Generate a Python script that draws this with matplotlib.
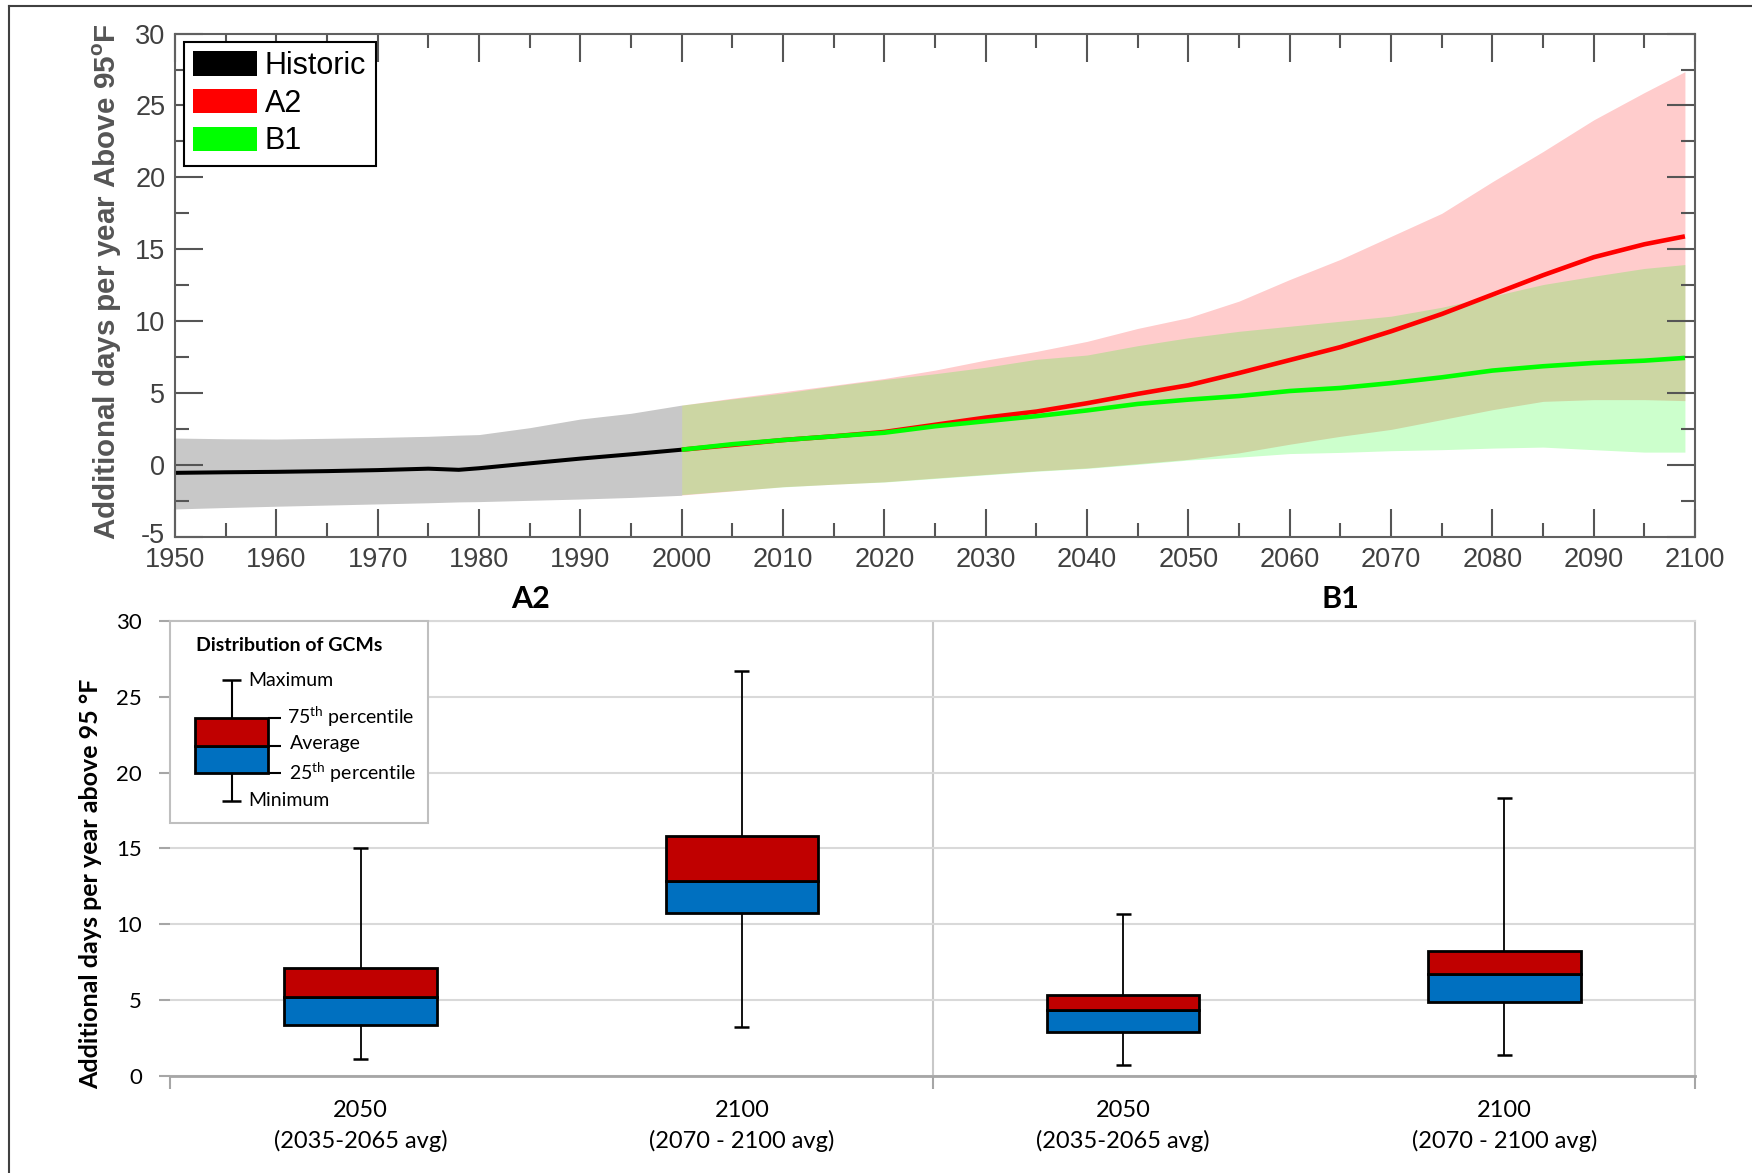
import matplotlib
matplotlib.use('Agg')
import matplotlib.pyplot as plt
from matplotlib.patches import Patch, Rectangle
from matplotlib.ticker import MultipleLocator
from matplotlib.lines import Line2D
import matplotlib.transforms as mtransforms

plt.rcParams['axes.unicode_minus'] = False
plt.rcParams['mathtext.fontset'] = 'custom'
plt.rcParams['mathtext.rm'] = 'Lato'
plt.rcParams['mathtext.bf'] = 'Liberation Sans:bold'

# ---------------- Top panel data ----------------
hist_years = [1950, 1955, 1960, 1965, 1970, 1975, 1978, 1980, 1985, 1990, 1995, 2000]
hist_mean = [-0.54, -0.5, -0.47, -0.42, -0.35, -0.25, -0.33, -0.22, 0.12, 0.45, 0.75, 1.07]
hist_upper = [1.88, 1.83, 1.81, 1.86, 1.92, 2.0, 2.08, 2.12, 2.6, 3.2, 3.6, 4.17]
hist_lower = [-3.05, -2.95, -2.86, -2.78, -2.7, -2.62, -2.56, -2.54, -2.45, -2.36, -2.25, -2.1]

fut_years = [2000, 2005, 2010, 2015, 2020, 2025, 2030, 2035, 2040, 2045, 2050,
             2055, 2060, 2065, 2070, 2075, 2080, 2085, 2090, 2095, 2099]
a2_mean = [1.07, 1.4, 1.74, 2.0, 2.3, 2.8, 3.3, 3.72, 4.3, 4.95, 5.55,
           6.4, 7.3, 8.2, 9.3, 10.5, 11.85, 13.2, 14.45, 15.35, 15.9]
a2_upper = [4.17, 4.65, 5.1, 5.55, 6.02, 6.6, 7.3, 7.9, 8.6, 9.5, 10.25,
            11.4, 12.9, 14.3, 15.9, 17.5, 19.7, 21.8, 24.0, 25.9, 27.35]
a2_lower = [-2.08, -1.8, -1.5, -1.33, -1.16, -0.9, -0.65, -0.4, -0.2, 0.1, 0.4,
            0.85, 1.45, 2.0, 2.48, 3.16, 3.85, 4.43, 4.55, 4.55, 4.48]
b1_mean = [1.07, 1.45, 1.74, 2.0, 2.25, 2.7, 3.05, 3.4, 3.8, 4.25, 4.55,
           4.8, 5.15, 5.36, 5.7, 6.1, 6.57, 6.87, 7.1, 7.26, 7.45]
b1_upper = [4.17, 4.6, 5.0, 5.5, 5.95, 6.35, 6.8, 7.35, 7.65, 8.3, 8.85,
            9.3, 9.65, 10.0, 10.35, 10.97, 11.74, 12.55, 13.13, 13.67, 13.94]
b1_lower = [-2.05, -1.78, -1.52, -1.33, -1.18, -0.93, -0.68, -0.43, -0.23, 0.05, 0.35,
            0.55, 0.8, 0.88, 1.0, 1.07, 1.18, 1.25, 1.07, 0.9, 0.9]

# ---------------- Bottom panel data ----------------
box_labels = ['2050\n(2035-2065 avg)', '2100\n(2070 - 2100 avg)',
              '2050\n(2035-2065 avg)', '2100\n(2070 - 2100 avg)']
box_min = [1.15, 3.22, 0.7, 1.4]
box_q25 = [3.33, 10.73, 2.93, 4.9]
box_avg = [5.21, 12.85, 4.34, 6.75]
box_q75 = [7.09, 15.8, 5.37, 8.25]
box_max = [15.0, 26.7, 10.7, 18.3]
group_titles = ['A2', 'B1']

# legend sample box (drawn in data units of the bottom axes)
leg_min, leg_q25, leg_avg, leg_q75, leg_max = 18.12, 20.0, 21.73, 23.63, 26.1

RED = '#C00000'
BLUE = '#0070C0'

fig = plt.figure(figsize=(17.52, 11.73), dpi=100)

# figure frame lines (top and left)
fig.add_artist(Line2D([0.0051, 1.0], [0.9949, 0.9949], transform=fig.transFigure,
                      color='#404040', lw=1.5))
fig.add_artist(Line2D([0.0051, 0.0051], [0.0, 0.9949], transform=fig.transFigure,
                      color='#404040', lw=1.5))

# ================= TOP PANEL =================
ax1 = fig.add_axes([0.0999, 0.5422, 0.8676, 0.4292])
ax1.fill_between(hist_years, hist_lower, hist_upper, color='#c8c8c8', lw=0)
ax1.fill_between(fut_years, a2_lower, a2_upper, color='#ff0000', alpha=0.2, lw=0)
ax1.fill_between(fut_years, b1_lower, b1_upper, color='#00ff00', alpha=0.2, lw=0)
ax1.plot(hist_years, hist_mean, color='black', lw=2.9, solid_capstyle='butt')
ax1.plot(fut_years, a2_mean, color='#ff0000', lw=3.3, solid_capstyle='butt')
ax1.plot(fut_years, b1_mean, color='#00ff00', lw=3.3, solid_capstyle='butt')
ax1.set_xlim(1950, 2100)
ax1.set_ylim(-5, 30)
ax1.xaxis.set_major_locator(MultipleLocator(10))
ax1.xaxis.set_minor_locator(MultipleLocator(5))
ax1.yaxis.set_major_locator(MultipleLocator(5))
ax1.yaxis.set_minor_locator(MultipleLocator(2.5))
ax1.tick_params(which='both', direction='in', top=True, right=True,
                color='#555555', width=1.5)
ax1.tick_params(which='major', length=20, pad=7, labelsize=19.5, labelcolor='#404040')
ax1.tick_params(which='minor', length=10)
for lab in ax1.get_xticklabels() + ax1.get_yticklabels():
    lab.set_family('Liberation Sans')
# nudge the lowest y tick label up slightly, as in the original
for lab in ax1.get_yticklabels():
    if lab.get_text() == '-5':
        lab.set_transform(lab.get_transform() +
                          mtransforms.ScaledTranslation(0, 4 / 100, fig.dpi_scale_trans))
for s in ax1.spines.values():
    s.set_color('#606060')
    s.set_linewidth(1.5)

handles = [Patch(facecolor='black', edgecolor='none', label='Historic'),
           Patch(facecolor='#ff0000', edgecolor='none', label='A2'),
           Patch(facecolor='#00ff00', edgecolor='none', label='B1')]
leg = ax1.legend(handles=handles, loc='upper left',
                 bbox_to_anchor=(9 / 1520, 1 - 8.5 / 503.5), borderaxespad=0,
                 prop={'family': 'Liberation Sans', 'size': 22},
                 handlelength=2.1, handleheight=0.85, handletextpad=0.25,
                 labelspacing=0.25, borderpad=0.3, fancybox=False,
                 edgecolor='black', framealpha=1)
leg.get_frame().set_linewidth(1.5)

fig.text(0.0616, 0.7596, r'Additional days per year Above 95$^{\mathbf{o}}$F',
         rotation=90, ha='center', va='center', fontsize=21.3, fontweight='bold',
         color='#555555', family='Liberation Sans')

# ================= BOTTOM PANEL =================
ax2 = fig.add_axes([0.0970, 0.0827, 0.8705, 0.3879])
ax2.set_xlim(0, 4)
ax2.set_ylim(0, 30)
ax2.set_yticks(range(0, 31, 5))
ax2.yaxis.grid(True, color='#d9d9d9', lw=1.5)
ax2.set_axisbelow(True)
ax2.spines['left'].set_visible(False)
ax2.spines['top'].set_color('#d9d9d9')
ax2.spines['top'].set_linewidth(1.5)
ax2.spines['right'].set_color('#c8c8c8')
ax2.spines['right'].set_linewidth(1.5)
ax2.spines['bottom'].set_color('#a6a6a6')
ax2.spines['bottom'].set_linewidth(2)
ax2.axvline(2, color='#c8c8c8', lw=1.5, zorder=0.5)

ax2.set_xticks([0, 2, 4])
ax2.set_xticklabels([])
ax2.tick_params(axis='x', which='major', length=9, width=1.5, color='#a6a6a6')
positions = [0.5, 1.5, 2.5, 3.5]
ax2.set_xticks(positions, minor=True)
ax2.set_xticklabels(box_labels, minor=True, fontsize=17, family='Lato',
                    linespacing=1.5)
ax2.tick_params(axis='x', which='minor', length=0, pad=17)
ax2.tick_params(axis='y', length=8, width=1.5, color='#a6a6a6', pad=12,
                labelsize=16)
for lab in ax2.get_yticklabels():
    lab.set_family('Lato')

bw = 0.4
for i, p in enumerate(positions):
    ax2.vlines(p, box_q75[i], box_max[i], color='black', lw=1.3, zorder=2)
    ax2.vlines(p, box_min[i], box_q25[i], color='black', lw=1.3, zorder=2)
    ax2.hlines([box_min[i], box_max[i]], p - 0.02, p + 0.02, color='black',
               lw=1.8, zorder=2)
    ax2.bar(p, box_avg[i] - box_q25[i], bottom=box_q25[i], width=bw,
            color=BLUE, edgecolor='black', lw=2, zorder=3)
    ax2.bar(p, box_q75[i] - box_avg[i], bottom=box_avg[i], width=bw,
            color=RED, edgecolor='black', lw=2, zorder=3)

trans = mtransforms.blended_transform_factory(ax2.transData, ax2.transAxes)
for x, t in zip([0.947, 3.07], group_titles):
    ax2.text(x, 1.018, t, transform=trans, ha='center', va='bottom',
             fontsize=22, fontweight='bold', family='Lato')

ax2.set_ylabel('Additional days per year above 95 °F', fontsize=18,
               fontweight='bold', family='Lato')
ax2.yaxis.set_label_coords(-0.0445, 0.423)

# legend box for the bottom panel
ax2.add_patch(Rectangle((0, 16.65), 0.677, 13.35, facecolor='white',
                        edgecolor='#bfbfbf', lw=1.5, zorder=4, clip_on=False))
ax2.text(0.068, 28.4, 'Distribution of GCMs', fontsize=14, fontweight='bold',
         family='Lato', va='center', ha='left', zorder=5)
lx = 0.1615
lw_ = 0.192
ax2.vlines(lx, leg_q75, leg_max, color='black', lw=1.5, zorder=5)
ax2.vlines(lx, leg_min, leg_q25, color='black', lw=1.5, zorder=5)
ax2.hlines([leg_min, leg_max], lx - 0.026, lx + 0.026, color='black', lw=1.8, zorder=5)
ax2.bar(lx, leg_avg - leg_q25, bottom=leg_q25, width=lw_, color=BLUE,
        edgecolor='black', lw=2, zorder=6)
ax2.bar(lx, leg_q75 - leg_avg, bottom=leg_avg, width=lw_, color=RED,
        edgecolor='black', lw=2, zorder=6)
ax2.hlines([leg_q75, leg_avg, leg_q25], lx + lw_ / 2, lx + lw_ / 2 + 0.033,
           color='black', lw=1.5, zorder=5)
ltxt = dict(fontsize=14, family='Lato', va='center', ha='left', zorder=6)
ax2.text(0.205, 26.05, 'Maximum', **ltxt)
ax2.text(0.307, 23.68, r'75$^{\mathrm{th}}$ percentile', **ltxt)
ax2.text(0.315, 21.92, 'Average', **ltxt)
ax2.text(0.313, 20.0, r'25$^{\mathrm{th}}$ percentile', **ltxt)
ax2.text(0.205, 18.17, 'Minimum', **ltxt)

fig.savefig('out.png', dpi=100)
